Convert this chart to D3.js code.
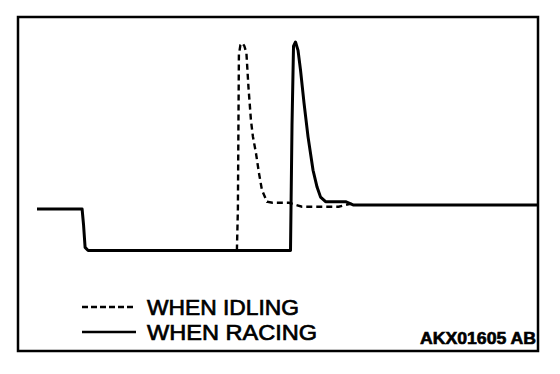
<!DOCTYPE html>
<html>
<head>
<meta charset="utf-8">
<script src="https://cdn.jsdelivr.net/npm/d3@7"></script>
<style>
	body { margin: 0; background: #fff; }
	svg { display: block; }
</style>
</head>
<body>
<script>
// oxygen sensor style signal: idling vs racing
var racing_t = [0, 9.0, 9.3, 9.6, 10.2, 50.6, 50.9, 51.2, 51.6, 52.1, 52.6, 53.3, 54.1, 55.1, 55.9, 56.6, 57.6, 61.6, 63.2, 100];
var racing_v = [19.9, 19.9, 12, 1.5, 0, 0, 60, 98, 100, 96, 86.5, 70.7, 54.5, 38.5, 30.4, 25.6, 23.4, 23.4, 21.8, 21.8];

var idling_t = [39.9, 40.1, 40.3, 40.6, 41.0, 41.4, 41.8, 42.2, 42.7, 43.1, 43.7, 44.3, 44.9, 45.9, 47.0, 50.3, 52.9, 60.2, 62.8];
var idling_v = [0, 20, 94, 98.5, 99.5, 98, 94.7, 78.6, 62.6, 54.6, 46.8, 37.2, 29.0, 23.4, 22.9, 22.9, 21.0, 21.0, 22.5];

var legend_labels = ["WHEN IDLING", "WHEN RACING"];
var code_label = "AKX01605 AB";

draw();

function draw() {
	var width = 560, height = 374;
	var frame = {left: 18, top: 17, right: 538, bottom: 351};

	var svg = d3.select("body").append("svg")
		.attr("width", width)
		.attr("height", height);

	svg.append("rect")
		.attr("x", frame.left)
		.attr("y", frame.top)
		.attr("width", frame.right - frame.left)
		.attr("height", frame.bottom - frame.top)
		.attr("fill", "none")
		.attr("stroke", "black")
		.attr("stroke-width", 2.5);

	var xScale = d3.scaleLinear().domain([0, 100]).range([37, 538]);
	var yScale = d3.scaleLinear().domain([0, 100]).range([250.5, 42]);

	var line = d3.line()
		.x(function(d) { return xScale(d[0]); })
		.y(function(d) { return yScale(d[1]); })
		.curve(d3.curveLinear);

	var idling = d3.zip(idling_t, idling_v);
	var racing = d3.zip(racing_t, racing_v);

	svg.append("path")
		.datum(idling)
		.attr("d", line)
		.attr("fill", "none")
		.attr("stroke", "black")
		.attr("stroke-width", 2.4)
		.attr("stroke-dasharray", "6,4");

	svg.append("path")
		.datum(racing)
		.attr("d", line)
		.attr("fill", "none")
		.attr("stroke", "black")
		.attr("stroke-width", 3)
		.attr("stroke-linejoin", "round");

	//legend
	var legend = svg.selectAll(".legend")
		.data(legend_labels)
		.enter()
		.append("g")
		.attr("class", "legend");

	legend.append("line")
		.attr("x1", 82)
		.attr("x2", 136)
		.attr("y1", function(d, i) { return 307 + 25*i; })
		.attr("y2", function(d, i) { return 307 + 25*i; })
		.attr("stroke", "black")
		.attr("stroke-width", 2.6)
		.attr("stroke-dasharray", function(d, i) { return i == 0 ? "6,3" : null; });

	legend.append("text")
		.attr("x", 147)
		.attr("y", function(d, i) { return 315 + 25*i; })
		.attr("textLength", function(d, i) { return i == 0 ? 152 : 170; })
		.attr("lengthAdjust", "spacingAndGlyphs")
		.style("font-family", "Liberation Sans, Arial, sans-serif")
		.style("font-size", "22px")
		.attr("fill", "black")
		.attr("stroke", "black")
		.attr("stroke-width", 0.7)
		.text(function(d) { return d; });

	svg.append("text")
		.attr("x", 420)
		.attr("y", 344)
		.attr("textLength", 116)
		.attr("lengthAdjust", "spacingAndGlyphs")
		.style("font-family", "Liberation Sans, Arial, sans-serif")
		.style("font-size", "16px")
		.style("font-weight", "bold")
		.attr("fill", "black")
		.attr("stroke", "black")
		.attr("stroke-width", 0.6)
		.text(code_label);
}
</script>
</body>
</html>
